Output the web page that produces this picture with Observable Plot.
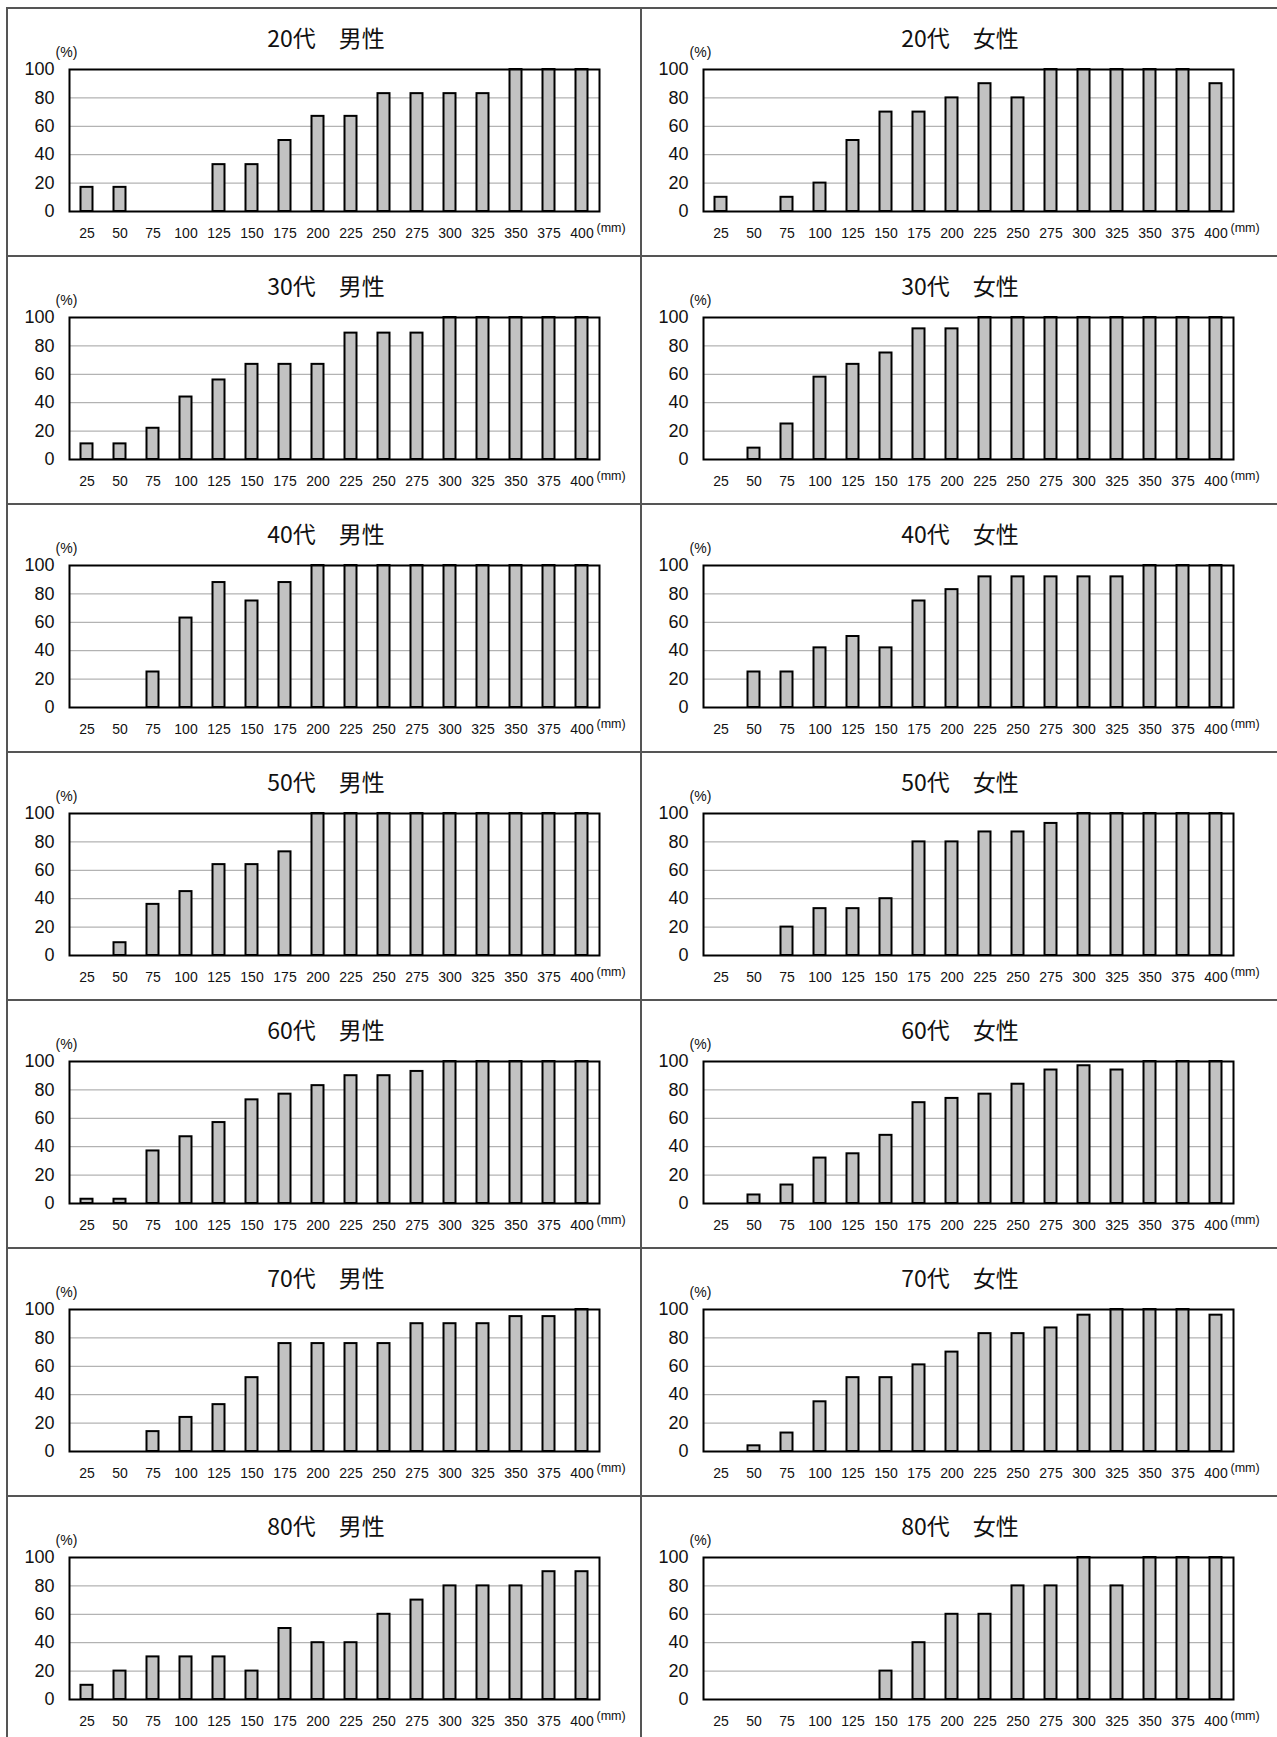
<!DOCTYPE html>
<html><head><meta charset="utf-8">
<script src="https://cdn.jsdelivr.net/npm/d3@7"></script>
<script src="https://cdn.jsdelivr.net/npm/@observablehq/plot@0.6"></script>
<style>
body{margin:0;background:#fff;}
#page{position:relative;width:1277px;height:1737px;overflow:hidden;background:#fff;}
.box{position:absolute;box-sizing:border-box;border-top:2px solid #555;border-left:2px solid #555;}
.title{position:absolute;width:300px;margin-left:-150px;text-align:center;font-family:"Noto Sans CJK JP","Noto Sans",sans-serif;font-size:23px;line-height:28px;color:#111;white-space:pre;}
.chart{position:absolute;}
</style>
</head><body>
<div id="page"></div>
<script>
// categories (mm)
const sizes = ["25","50","75","100","125","150","175","200","225","250","275","300","325","350","375","400"];
const ages = ["20代","30代","40代","50代","60代","70代","80代"];
const sexes = ["男性","女性"];
const yTicks = [0,20,40,60,80,100];

// values (%)
const m20 = [17,17,0,0,33,33,50,67,67,83,83,83,83,100,100,100];
const f20 = [10,0,10,20,50,70,70,80,90,80,100,100,100,100,100,90];
const m30 = [11,11,22,44,56,67,67,67,89,89,89,100,100,100,100,100];
const f30 = [0,8,25,58,67,75,92,92,100,100,100,100,100,100,100,100];
const m40 = [0,0,25,63,88,75,88,100,100,100,100,100,100,100,100,100];
const f40 = [0,25,25,42,50,42,75,83,92,92,92,92,92,100,100,100];
const m50 = [0,9,36,45,64,64,73,100,100,100,100,100,100,100,100,100];
const f50 = [0,0,20,33,33,40,80,80,87,87,93,100,100,100,100,100];
const m60 = [3,3,37,47,57,73,77,83,90,90,93,100,100,100,100,100];
const f60 = [0,6,13,32,35,48,71,74,77,84,94,97,94,100,100,100];
const m70 = [0,0,14,24,33,52,76,76,76,76,90,90,90,95,95,100];
const f70 = [0,4,13,35,52,52,61,70,83,83,87,96,100,100,100,96];
const m80 = [10,20,30,30,30,20,50,40,40,60,70,80,80,80,90,90];
const f80 = [0,0,0,0,0,20,40,60,60,80,80,100,80,100,100,100];

const series = [[m20,f20],[m30,f30],[m40,f40],[m50,f50],[m60,f60],[m70,f70],[m80,f80]];

const page = document.getElementById("page");
const rowH = 248, top0 = 7;
const colLeft = [6, 640];
const colW = [634, 637];

ages.forEach((age, r) => {
  sexes.forEach((sex, c) => {
    const L = colLeft[c], T = top0 + r * rowH;
    const box = document.createElement("div");
    box.className = "box";
    box.style.left = L + "px"; box.style.top = T + "px";
    box.style.width = (colW[c] + 2) + "px"; box.style.height = (rowH + 2) + "px";
    page.appendChild(box);

    const t = document.createElement("div");
    t.className = "title";
    t.textContent = age + "　" + sex;
    t.style.left = (L + 320) + "px"; t.style.top = (T + 16) + "px";
    page.appendChild(t);

    const vals = series[r][c];
    const data = sizes.map((s, i) => ({size: s, v: vals[i]}));
    const chart = Plot.plot({
      width: 634, height: 246,
      marginTop: 62, marginBottom: 42, marginLeft: 63, marginRight: 41,
      style: {fontFamily: "'Liberation Sans', Arial, sans-serif", color: "#111", background: "transparent", overflow: "visible"},
      x: {type: "band", domain: sizes, padding: 0, label: null},
      y: {domain: [0, 100], label: null},
      marks: [
        Plot.ruleY([20,40,60,80], {stroke: "#a0a0a0", strokeWidth: 1}),
        Plot.barY(data, {x: "size", y: "v", fill: "#c2c2c2", stroke: "#000", strokeWidth: 2, insetLeft: 10.5, insetRight: 10.5}),
        Plot.frame({stroke: "#000", strokeWidth: 2}),
        Plot.axisY({ticks: yTicks, tickSize: 0, tickPadding: 15, fontSize: 18, label: null}),
        Plot.axisX({tickSize: 0, tickPadding: 17, fontSize: 14, label: null}),
        Plot.text(["(%)"], {frameAnchor: "top-left", dx: -3, dy: -22, fontSize: 14, textAnchor: "middle"}),
        Plot.text(["(mm)"], {frameAnchor: "bottom-right", dx: -3, dy: 20, fontSize: 12.5, textAnchor: "start"})
      ]
    });
    chart.classList.add("chart");
    chart.style.left = L + "px"; chart.style.top = T + "px";
    page.appendChild(chart);
  });
});
</script>
</body></html>
